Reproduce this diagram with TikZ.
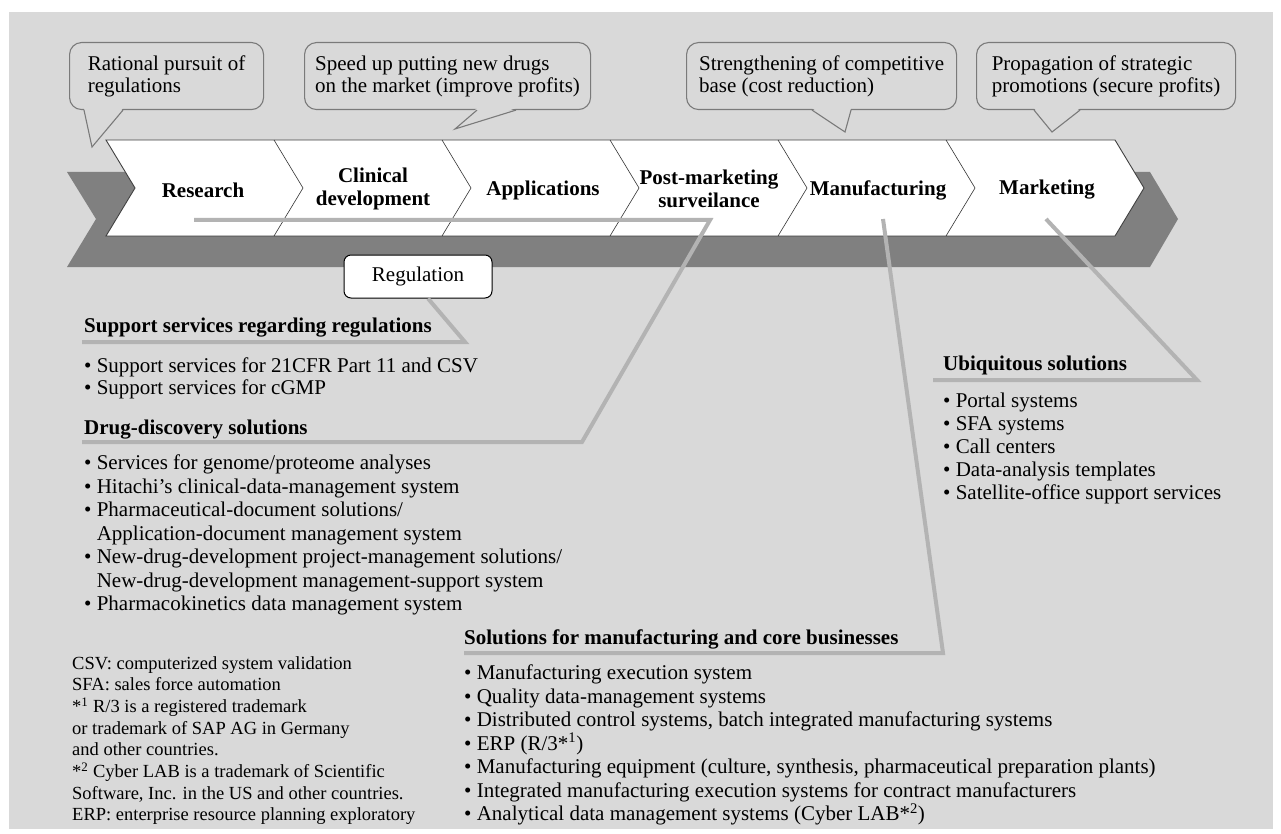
\documentclass[tikz,border=0pt]{standalone}
\usepackage{fontspec}
\setmainfont{Liberation Serif}
\definecolor{bggray}{HTML}{D9D9D9}
\definecolor{shadowgray}{HTML}{808080}
\definecolor{linkgray}{HTML}{B3B3B3}
\definecolor{rimgray}{HTML}{7A7A7A}
\tikzset{
  goal/.style={draw=rimgray, line width=1.1pt, fill=bggray, rounded corners=12pt,
    anchor=north west, minimum height=67pt, inner xsep=8pt, align=left,
    font=\fontsize{21}{22}\selectfont},
  tail/.style={draw=rimgray, line width=1.1pt},
  stage/.style={font=\fontsize{21}{23}\selectfont\bfseries, align=center},
  regbox/.style={draw=black, fill=white, line width=1pt, rounded corners=7pt,
    minimum width=148pt, minimum height=43pt, font=\fontsize{21}{23}\selectfont},
  link/.style={draw=linkgray, line width=4pt},
  head/.style={anchor=base west, inner sep=0pt, font=\fontsize{21}{23}\selectfont\bfseries},
  items/.style={anchor=north west, inner sep=0pt, align=left, font=\fontsize{21}{23.5}\selectfont},
  notes/.style={anchor=north west, inner sep=0pt, align=left, font=\fontsize{18.5}{21.7}\selectfont},
}
\begin{document}
\begin{tikzpicture}[x=1pt,y=-1pt]
  \useasboundingbox (0,0) rectangle (1281,834);
  \fill[bggray] (9,12) rectangle (1273,829);

  % shadow band and the six stages
  \fill[shadowgray] (67,172) -- (1150,172) -- (1178,219) -- (1150,267) -- (67,267) -- (96,219) -- cycle;
  \draw[fill=white, draw=black!75, line width=0.9pt] (106,140) -- (1115,140) -- (1144,188) -- (1115,236) -- (106,236) -- (135,188) -- cycle;
  \draw[black!80, line width=0.6pt] (274,140) -- (303,188) -- (274,236);
  \draw[black!80, line width=0.6pt] (442,140) -- (471,188) -- (442,236);
  \draw[black!80, line width=0.6pt] (610,140) -- (639,188) -- (610,236);
  \draw[black!80, line width=0.6pt] (778,140) -- (807,188) -- (778,236);
  \draw[black!80, line width=0.6pt] (946,140) -- (975,188) -- (946,236);

  \node[stage] (research) at (203,190) {Research};
  \node[stage] (clinical) at (373,189) {Clinical\\development};
  \node[stage] (applications) at (543,190) {Applications};
  \node[stage] (postmkt) at (709,189) {Post-marketing\\surveilance};
  \node[stage] (manufacturing) at (878,190) {Manufacturing};
  \node[stage] (marketing) at (1047,190) {Marketing};

  % goals above the stages
  \node[goal, minimum width=194pt] (goal1) at (69,42) {Rational pursuit of\\regulations};
  \node[goal, minimum width=286pt] (goal2) at (304,42) {Speed up putting new drugs\\on the market (improve profits)};
  \node[goal, minimum width=270pt] (goal3) at (686,42) {Strengthening of competitive\\base (cost reduction)};
  \node[goal, minimum width=259pt] (goal4) at (976,42) {Propagation of strategic\\promotions (secure profits)};

  \coordinate (tip1) at (92,147);
  \coordinate (tip2) at (455,129);
  \coordinate (tip3) at (845,132);
  \coordinate (tip4) at (1052,132);
  \fill[bggray] ([xshift=15pt,yshift=2pt]goal1.south west) -- (tip1) -- ([xshift=54pt,yshift=2pt]goal1.south west) -- cycle;
  \draw[tail] ([xshift=15pt]goal1.south west) -- (tip1) -- ([xshift=54pt]goal1.south west);
  \fill[bggray] ([xshift=173pt,yshift=2pt]goal2.south west) -- (tip2) -- ([xshift=212pt,yshift=2pt]goal2.south west) -- cycle;
  \draw[tail] ([xshift=173pt]goal2.south west) -- (tip2) -- ([xshift=212pt]goal2.south west);
  \fill[bggray] ([xshift=126pt,yshift=2pt]goal3.south west) -- (tip3) -- ([xshift=165pt,yshift=2pt]goal3.south west) -- cycle;
  \draw[tail] ([xshift=126pt]goal3.south west) -- (tip3) -- ([xshift=165pt]goal3.south west);
  \fill[bggray] ([xshift=58pt,yshift=2pt]goal4.south west) -- (tip4) -- ([xshift=104pt,yshift=2pt]goal4.south west) -- cycle;
  \draw[tail] ([xshift=58pt]goal4.south west) -- (tip4) -- ([xshift=104pt]goal4.south west);

  % links from the stages to the solutions
  \coordinate (regfoot) at (194,220);
  \coordinate (regknee) at (710,220);
  \coordinate (drugknee) at (582,442);
  \coordinate (drugend) at (82,442);
  \coordinate (supknee) at (465,342);
  \coordinate (supend) at (82,342);
  \coordinate (mfgfoot) at (883,219);
  \coordinate (mfgknee) at (943,653);
  \coordinate (mfgend) at (464,653);
  \coordinate (mktfoot) at (1046,219);
  \coordinate (mktknee) at (1197,380);
  \coordinate (mktend) at (933,380);
  \draw[link] (regfoot) -- (regknee) -- (drugknee) -- (drugend);
  \draw[link] (mfgfoot) -- (mfgknee) -- (mfgend);
  \draw[link] (mktfoot) -- (mktknee) -- (mktend);

  \node[regbox] (regulation) at (418,276.5) {Regulation};
  \draw[link] ([xshift=10pt]regulation.south) -- (supknee) -- (supend);

  % solutions
  \node[head] (suphead) at (84,332) {Support services regarding regulations};
  \node[items, font=\fontsize{21}{22}\selectfont] (supitems) at (84,358) {\textbullet\ Support services for 21CFR Part 11 and CSV\\\textbullet\ Support services for cGMP};
  \node[head] (drughead) at (84,434) {Drug-discovery solutions};
  \node[items] (drugitems) at (84,455) {\textbullet\ Services for genome/proteome analyses\\
    \textbullet\ Hitachi's clinical-data-management system\\
    \textbullet\ Pharmaceutical-document solutions/\\
    \phantom{\textbullet\ }Application-document management system\\
    \textbullet\ New-drug-development project-management solutions/\\
    \phantom{\textbullet\ }New-drug-development management-support system\\
    \textbullet\ Pharmacokinetics data management system};
  \node[head] (ubihead) at (943,370) {Ubiquitous solutions};
  \node[items, font=\fontsize{21}{23}\selectfont] (ubiitems) at (943,393) {\textbullet\ Portal systems\\
    \textbullet\ SFA systems\\
    \textbullet\ Call centers\\
    \textbullet\ Data-analysis templates\\
    \textbullet\ Satellite-office support services};
  \node[head] (mfghead) at (464,644) {Solutions for manufacturing and core businesses};
  \node[items] (mfgitems) at (464,665) {\textbullet\ Manufacturing execution system\\
    \textbullet\ Quality data-management systems\\
    \textbullet\ Distributed control systems, batch integrated manufacturing systems\\
    \textbullet\ ERP (R/3*\textsuperscript{1})\\
    \textbullet\ Manufacturing equipment (culture, synthesis, pharmaceutical preparation plants)\\
    \textbullet\ Integrated manufacturing execution systems for contract manufacturers\\
    \textbullet\ Analytical data management systems (Cyber LAB*\textsuperscript{2})};

  % footnotes
  \node[notes] (footnotes) at (72,656) {CSV: computerized system validation\\
    SFA: sales force automation\\
    {}*\textsuperscript{1} R/3 is a registered trademark\\
    or trademark of SAP AG in Germany\\
    and other countries.\\
    {}*\textsuperscript{2} Cyber LAB is a trademark of Scientific\\
    Software, Inc. in the US and other countries.\\
    ERP: enterprise resource planning exploratory};
\end{tikzpicture}
\end{document}
